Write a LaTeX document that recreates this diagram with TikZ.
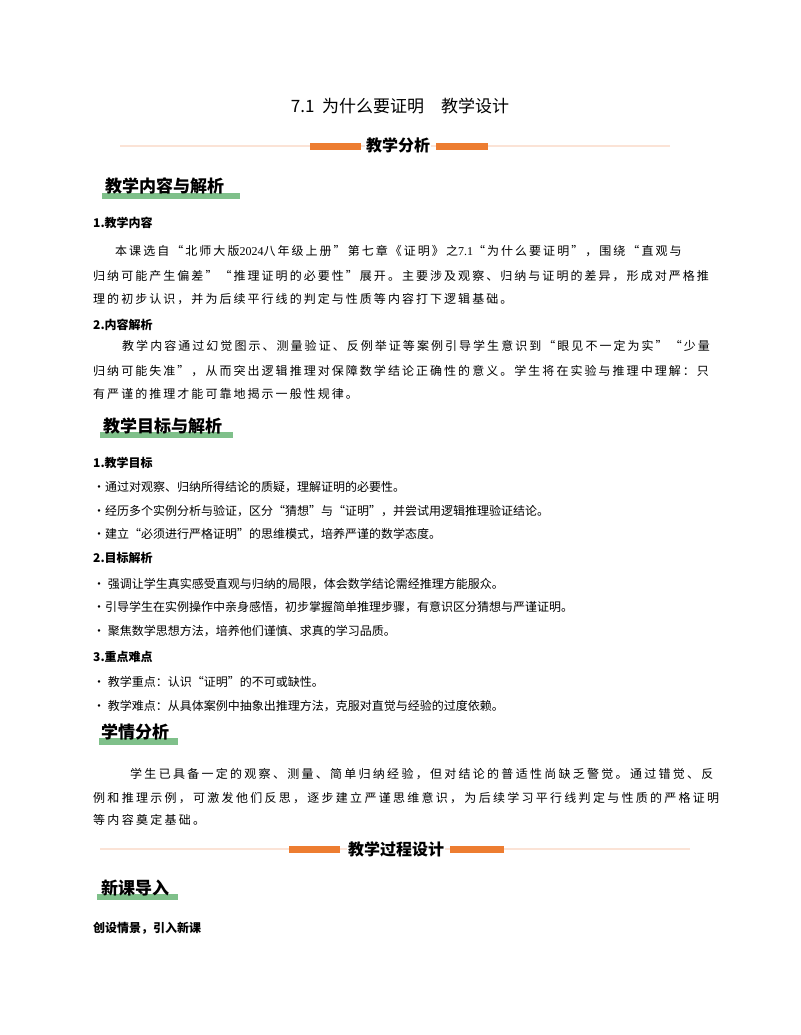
\documentclass[tikz,border=0pt]{standalone}
\usepackage{fontspec}
\setmainfont{Noto Sans CJK SC}
\newfontfamily\latinf{Liberation Serif}
\definecolor{orangebar}{HTML}{ED7D31}
\definecolor{greenbar}{HTML}{7FC08A}
\definecolor{thinline}{HTML}{FBE3D6}
\tikzset{
 body/.style={anchor=base west,inner sep=0pt,font=\fontsize{12}{14}\selectfont},
 para/.style={anchor=base west,inner sep=0pt,font=\fontsize{12}{14}\selectfont\addfontfeatures{LetterSpace=17}},
 parb/.style={anchor=base west,inner sep=0pt,font=\fontsize{12}{14}\selectfont\addfontfeatures{LetterSpace=19}},
 sub/.style={anchor=base west,inner sep=0pt,font=\fontsize{12}{14}\selectfont\bfseries},
 sect/.style={anchor=base west,inner sep=0pt,font=\fontsize{17}{20}\selectfont\bfseries},
 band/.style={anchor=base,inner sep=0pt,font=\fontsize{16}{20}\selectfont\bfseries},
}
\begin{document}
\begin{tikzpicture}[x=1pt,y=-1pt]
\useasboundingbox[fill=white] (0,0) rectangle (800,1035);
\node[anchor=base,inner sep=0pt,font=\fontsize{17}{20}\selectfont] (title) at (400,113) {7.1\ \ 为什么要证明\quad 教学设计};
% band 1
\draw[thinline,line width=1.2pt] (120,146) -- (670,146);
\fill[orangebar] (310,143) rectangle (361,150);
\fill[orangebar] (436,143) rectangle (488,150);
\node[band,fill=white,inner xsep=1pt] (b1) at (398,152) {教学分析};
% section 1
\fill[greenbar] (102,193) rectangle (240,199);
\node[sect] (s1) at (105,193) {教学内容与解析};
\node[sub] (h11) at (93,227) {1.教学内容};
\node[para] (p1) at (115,255) {本课选自“北师大版{\latinf 2024}八年级上册”第七章《证明》之{\latinf 7.1}“为什么要证明”，围绕“直观与};
\node[para] (p2) at (93,280) {归纳可能产生偏差”“推理证明的必要性”展开。主要涉及观察、归纳与证明的差异，形成对严格推};
\node[para] (p3) at (93,303) {理的初步认识，并为后续平行线的判定与性质等内容打下逻辑基础。};
\node[sub] (h12) at (93,329) {2.内容解析};
\node[para] (p4) at (122,350) {教学内容通过幻觉图示、测量验证、反例举证等案例引导学生意识到“眼见不一定为实”“少量};
\node[para] (p5) at (93,375) {归纳可能失准”，从而突出逻辑推理对保障数学结论正确性的意义。学生将在实验与推理中理解：只};
\node[para] (p6) at (93,398) {有严谨的推理才能可靠地揭示一般性规律。};
% section 2
\fill[greenbar] (100,432) rectangle (233,438);
\node[sect] (s2) at (103,432) {教学目标与解析};
\node[sub] (h21) at (93,467) {1.教学目标};
\node[body] (g1) at (93,491) {•通过对观察、归纳所得结论的质疑，理解证明的必要性。};
\node[body] (g2) at (93,515) {•经历多个实例分析与验证，区分“猜想”与“证明”，并尝试用逻辑推理验证结论。};
\node[body] (g3) at (93,538) {•建立“必须进行严格证明”的思维模式，培养严谨的数学态度。};
\node[sub] (h22) at (93,562) {2.目标解析};
\node[body] (a1) at (93,588) {•\ 强调让学生真实感受直观与归纳的局限，体会数学结论需经推理方能服众。};
\node[body] (a2) at (93,611) {•引导学生在实例操作中亲身感悟，初步掌握简单推理步骤，有意识区分猜想与严谨证明。};
\node[body] (a3) at (93,635) {•\ 聚焦数学思想方法，培养他们谨慎、求真的学习品质。};
\node[sub] (h23) at (93,661) {3.重点难点};
\node[body] (k1) at (93,686) {•\ 教学重点：认识“证明”的不可或缺性。};
\node[body] (k2) at (93,710) {•\ 教学难点：从具体案例中抽象出推理方法，克服对直觉与经验的过度依赖。};
% section 3
\fill[greenbar] (99,738) rectangle (178,745);
\node[sect] (s3) at (101,738) {学情分析};
\node[parb] (q1) at (130,778) {学生已具备一定的观察、测量、简单归纳经验，但对结论的普适性尚缺乏警觉。通过错觉、反};
\node[parb] (q2) at (93,802) {例和推理示例，可激发他们反思，逐步建立严谨思维意识，为后续学习平行线判定与性质的严格证明};
\node[parb] (q3) at (93,824) {等内容奠定基础。};
% band 2
\draw[thinline,line width=1.2pt] (100,849) -- (690,849);
\fill[orangebar] (289,846) rectangle (340,853);
\fill[orangebar] (450,846) rectangle (504,853);
\node[band,fill=white,inner xsep=1pt] (b2) at (396,855) {教学过程设计};
% section 4
\fill[greenbar] (97,894) rectangle (178,900);
\node[sect] (s4) at (101,894) {新课导入};
\node[sub] (h41) at (93,932) {创设情景，引入新课};
\end{tikzpicture}
\end{document}
